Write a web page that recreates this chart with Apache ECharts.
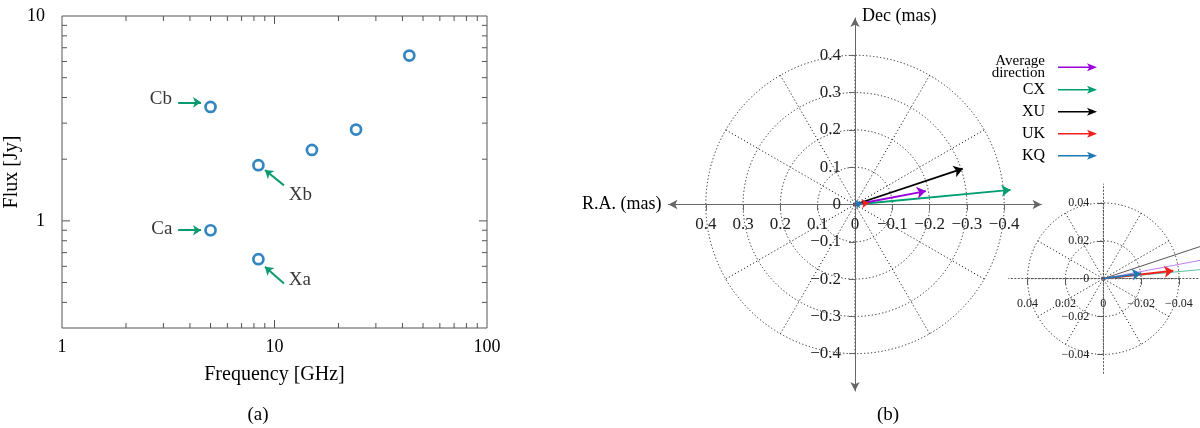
<!DOCTYPE html>
<html>
<head>
<meta charset="utf-8">
<script src="https://cdn.jsdelivr.net/npm/echarts@6/dist/echarts.min.js"></script>
<style>html,body{margin:0;padding:0;background:#fff}#c{width:1200px;height:428px}</style>
</head>
<body>
<div id="c"></div>
<script>
// ---------- data: panel (a) ----------
const freqGHz = [5.0, 5.0, 8.4, 8.4, 15.0, 24.2, 43.1];
const fluxJy  = [3.6, 0.90, 1.87, 0.65, 2.22, 2.79, 6.41];
const annotNames = ['Cb', 'Ca', 'Xb', 'Xa'];
const annotFrom  = [[3.52, 3.79], [3.52, 0.90], [11.08, 1.49], [11.08, 0.495]];
const annotTo    = [[4.51, 3.79], [4.51, 0.90], [9.02, 1.77], [9.02, 0.597]];
const annotLabelAt = [[3.29, 3.92], [3.31, 0.914], [11.67, 1.335], [11.67, 0.514]];
const annotLabelSide = ['left', 'left', 'right', 'right'];
const xMinorTicks = [2, 3, 4, 5, 6, 7, 8, 9, 20, 30, 40, 50, 60, 70, 80, 90];
const xMajorTicks = [10];
const yMinorTicks = [0.4, 0.5, 0.6, 0.7, 0.8, 0.9, 2, 3, 4, 5, 6, 7, 8, 9];
const yMajorTicks = [1];
const xTickLabels = [1, 10, 100];
const yTickLabels = [1, 10];

// ---------- data: panel (b) ----------
const shiftNames  = ['Average\ndirection', 'CX', 'XU', 'UK', 'KQ'];
const shiftRA     = [-0.190, -0.417, -0.289, -0.037, -0.020];
const shiftDec    = [0.036, 0.039, 0.096, 0.0042, 0.0028];
const shiftColors = ['#9a00dc', '#009e73', '#000000', '#f0201c', '#1f78b4'];
const insetLineColors = ['#c07ef0', '#5cc0a0', '#555555'];
const mainTicks  = [-0.4, -0.3, -0.2, -0.1, 0, 0.1, 0.2, 0.3, 0.4];
const insetTicks = [-0.04, -0.02, 0, 0.02, 0.04];
const insetTickMarks = [-0.04, -0.02, 0.02, 0.04];

const FONT = 'Liberation Serif';
const minus = v => {
  if (Math.abs(v) < 1e-9) return '0';
  return (v < 0 ? '\u2212' : '') + String(+Math.abs(v).toFixed(3));
};
const dotted = [1.2, 2.3];

// tick data for frame of panel (a): [x, y, orient(0=x,1=y), major]
const tickData = []
  .concat(xMinorTicks.map(v => [v, 1, 0, 0]))
  .concat(xMajorTicks.map(v => [v, 1, 0, 1]))
  .concat(yMinorTicks.map(v => [2, v, 1, 0]))
  .concat(yMajorTicks.map(v => [2, v, 1, 1]));

const series = [];

series.push({
  type: 'custom', xAxisIndex: 0, yAxisIndex: 0, silent: true, z: 3,
  encode: { x: 0, y: 1 },
  data: tickData,
  renderItem(params, api) {
    const cs = params.coordSys;
    const orient = api.value(2), L = api.value(3) ? 8 : 5;
    const st = { stroke: '#555', lineWidth: 1 };
    if (orient === 0) {
      const x = api.coord([api.value(0), 1])[0];
      const yb = cs.y + cs.height, yt = cs.y;
      return { type: 'group', children: [
        { type: 'line', shape: { x1: x, y1: yb, x2: x, y2: yb - L }, style: st },
        { type: 'line', shape: { x1: x, y1: yt, x2: x, y2: yt + L }, style: st }
      ]};
    }
    const y = api.coord([2, api.value(1)])[1];
    const xl = cs.x, xr = cs.x + cs.width;
    return { type: 'group', children: [
      { type: 'line', shape: { x1: xl, y1: y, x2: xl + L, y2: y }, style: st },
      { type: 'line', shape: { x1: xr, y1: y, x2: xr - L, y2: y }, style: st }
    ]};
  }
});

series.push({
  type: 'scatter', xAxisIndex: 0, yAxisIndex: 0, z: 5,
  symbol: 'circle', symbolSize: 10,
  itemStyle: { color: '#ffffff', borderColor: '#0068b0', borderWidth: 2.7 },
  data: freqGHz.map((f, i) => [f, fluxJy[i]])
});

series.push({
  type: 'lines', coordinateSystem: 'cartesian2d', xAxisIndex: 0, yAxisIndex: 0, z: 4,
  symbol: ['none', 'arrow'], symbolSize: 8,
  lineStyle: { color: '#0a9a70', width: 2, opacity: 1 },
  itemStyle: { color: '#0a9a70' },
  data: annotFrom.map((p, i) => ({ coords: [p, annotTo[i]] }))
});

series.push({
  type: 'scatter', xAxisIndex: 0, yAxisIndex: 0, symbolSize: 0, silent: true,
  data: annotLabelAt.map((p, i) => ({
    value: p, name: annotNames[i],
    label: { show: true, position: annotLabelSide[i], distance: 0, formatter: '{b}',
      fontFamily: FONT, fontSize: 19, color: '#000' }
  }))
});

const drawOrder = [1, 0, 2, 3, 4];
drawOrder.forEach(i => {
  series.push({
    name: shiftNames[i], type: 'lines', coordinateSystem: 'cartesian2d',
    xAxisIndex: 1, yAxisIndex: 1, z: 5 + (i >= 3 ? 1 : 0),
    symbol: ['none', 'arrow'], symbolSize: i >= 3 ? 7 : 9,
    lineStyle: { color: shiftColors[i], width: 1.8, opacity: 1 },
    itemStyle: { color: shiftColors[i] },
    data: [{ coords: [[0, 0], [shiftRA[i], shiftDec[i]]] }]
  });
});
[0, 1, 2].forEach(i => {
  series.push({
    name: shiftNames[i], type: 'line', xAxisIndex: 2, yAxisIndex: 2, z: 5,
    showSymbol: false, symbol: 'none', clip: true, silent: true,
    lineStyle: { color: insetLineColors[i], width: 1 },
    itemStyle: { color: shiftColors[i] },
    data: [[0, 0], [shiftRA[i], shiftDec[i]]]
  });
});
[3, 4].forEach(i => {
  series.push({
    name: shiftNames[i], type: 'lines', coordinateSystem: 'cartesian2d',
    xAxisIndex: 2, yAxisIndex: 2, z: 6,
    symbol: ['none', 'arrow'], symbolSize: 9,
    lineStyle: { color: shiftColors[i], width: 1.8, opacity: 1 },
    itemStyle: { color: shiftColors[i] },
    data: [{ coords: [[0, 0], [shiftRA[i], shiftDec[i]]] }]
  });
});

const arrowIcon = 'path://M0,3.2L31,3.2L29,0L39,4L29,8L31,4.8L0,4.8Z';
const legendCenters = [66, 88, 110, 132, 154];
const LH = 12.5;
const legends = shiftNames.map((n, i) => {
  const lines = n.split('\n').length;
  const h = lines * LH;
  return {
    data: [{ name: n, icon: arrowIcon, itemStyle: { color: shiftColors[i], borderWidth: 0 } }],
    right: 103, top: legendCenters[i] - h / 2, orient: 'vertical', align: 'right',
    itemWidth: 39, itemHeight: 8, padding: 0, selectedMode: false,
    textStyle: { fontFamily: FONT, fontSize: lines > 1 ? 15 : 16, lineHeight: LH, color: '#000', padding: [0, 8, 0, 0] }
  };
});

const polarAxisCommon = {
  axisLine: { show: false }, axisTick: { show: false }, axisLabel: { show: false },
  splitLine: { show: true, lineStyle: { type: dotted, color: '#222', width: 1 } }
};

const G1 = { left: 668.5, top: 18, size: 373 };
const G2 = { left: 1008.7, top: 184.1, size: 189.2 };

const option = {
  animation: false,
  backgroundColor: '#fff',
  textStyle: { fontFamily: FONT },
  title: [
    { text: '(a)', left: 253, top: 401, textAlign: 'center',
      textStyle: { fontFamily: FONT, fontSize: 19, fontWeight: 'normal', color: '#000' } },
    { text: '(b)', left: 883, top: 401, textAlign: 'center',
      textStyle: { fontFamily: FONT, fontSize: 19, fontWeight: 'normal', color: '#000' } }
  ],
  legend: legends,
  grid: [
    { left: 62, top: 16, width: 425, height: 312, show: true, borderColor: '#555', borderWidth: 1, backgroundColor: 'transparent' },
    { left: G1.left, top: G1.top, width: G1.size, height: G1.size },
    { left: G2.left, top: G2.top, width: G2.size, height: G2.size }
  ],
  xAxis: [
    { gridIndex: 0, type: 'log', logBase: 10, min: 1, max: 100,
      name: 'Frequency [GHz]', nameLocation: 'middle', nameGap: 37,
      nameTextStyle: { fontFamily: FONT, fontSize: 20, color: '#000' },
      axisLine: { show: false }, axisTick: { show: false }, splitLine: { show: false }, minorTick: { show: false },
      axisLabel: { fontFamily: FONT, fontSize: 18, color: '#000', margin: 10,
        formatter: v => xTickLabels.some(t => Math.abs(t - v) / t < 1e-6) ? String(+v.toPrecision(3)) : '' } },
    { gridIndex: 1, type: 'value', min: -0.5, max: 0.5, inverse: true, position: 'bottom', offset: -G1.size / 2,
      name: 'R.A. (mas)', nameLocation: 'end', nameGap: 7,
      nameTextStyle: { fontFamily: FONT, fontSize: 18, color: '#000', verticalAlign: 'middle' },
      axisLine: { onZero: false, symbol: ['arrow', 'arrow'], symbolSize: [7, 9], lineStyle: { color: '#666', width: 1 } },
      axisTick: { show: true, customValues: mainTicks, length: 6, lineStyle: { color: '#666' } },
      axisLabel: { customValues: mainTicks, fontFamily: FONT, fontSize: 17, color: '#222', margin: 12, formatter: minus },
      splitLine: { show: false } },
    { gridIndex: 2, type: 'value', min: -0.05, max: 0.05, inverse: true, position: 'bottom', offset: -G2.size / 2,
      axisLine: { onZero: false, lineStyle: { color: '#555', width: 1, type: dotted } },
      axisTick: { show: true, customValues: insetTickMarks, length: 6, lineStyle: { color: '#555' } },
      axisLabel: { customValues: insetTicks, fontFamily: FONT, fontSize: 12, color: '#222', margin: 19, formatter: minus },
      splitLine: { show: false } }
  ],
  yAxis: [
    { gridIndex: 0, type: 'log', logBase: 10, min: 0.3, max: 10,
      name: 'Flux [Jy]', nameLocation: 'middle', nameGap: 40,
      nameTextStyle: { fontFamily: FONT, fontSize: 20, color: '#000' },
      axisLine: { show: false }, axisTick: { show: false }, splitLine: { show: false }, minorTick: { show: false },
      axisLabel: { fontFamily: FONT, fontSize: 18, color: '#000', margin: 17,
        formatter: v => yTickLabels.some(t => Math.abs(t - v) / t < 1e-6) ? String(+v.toPrecision(3)) : '' } },
    { gridIndex: 1, type: 'value', min: -0.5, max: 0.5, position: 'left', offset: -G1.size / 2,
      name: 'Dec (mas)', nameLocation: 'end', nameGap: 2,
      nameTextStyle: { fontFamily: FONT, fontSize: 18, color: '#000', align: 'left', verticalAlign: 'middle', padding: [0, 0, 0, 7] },
      axisLine: { onZero: false, symbol: ['arrow', 'arrow'], symbolSize: [7, 9], lineStyle: { color: '#666', width: 1 } },
      axisTick: { show: true, customValues: mainTicks, length: 6, lineStyle: { color: '#666' } },
      axisLabel: { customValues: mainTicks, fontFamily: FONT, fontSize: 17, color: '#222', margin: 14, formatter: minus },
      splitLine: { show: false } },
    { gridIndex: 2, type: 'value', min: -0.05, max: 0.05, position: 'left', offset: -G2.size / 2,
      axisLine: { onZero: false, lineStyle: { color: '#555', width: 1, type: dotted } },
      axisTick: { show: true, customValues: insetTickMarks, length: 6, lineStyle: { color: '#555' } },
      axisLabel: { customValues: insetTicks, fontFamily: FONT, fontSize: 12, color: '#222', margin: 14, formatter: minus },
      splitLine: { show: false } }
  ],
  polar: [
    { center: [855, 204.5], radius: 149.2 },
    { center: [1103.3, 278.7], radius: 75.7 }
  ],
  angleAxis: [
    Object.assign({ polarIndex: 0, type: 'value', min: 0, max: 360, interval: 30, startAngle: 90 }, polarAxisCommon),
    Object.assign({ polarIndex: 1, type: 'value', min: 0, max: 360, interval: 30, startAngle: 90 }, polarAxisCommon)
  ],
  radiusAxis: [
    Object.assign({ polarIndex: 0, type: 'value', min: 0, max: 0.4, interval: 0.1 }, polarAxisCommon),
    Object.assign({ polarIndex: 1, type: 'value', min: 0, max: 0.04, interval: 0.02 }, polarAxisCommon)
  ],
  series: series
};

const chart = echarts.init(document.getElementById('c'), null, { renderer: 'canvas' });
chart.setOption(option);
</script>
</body>
</html>
